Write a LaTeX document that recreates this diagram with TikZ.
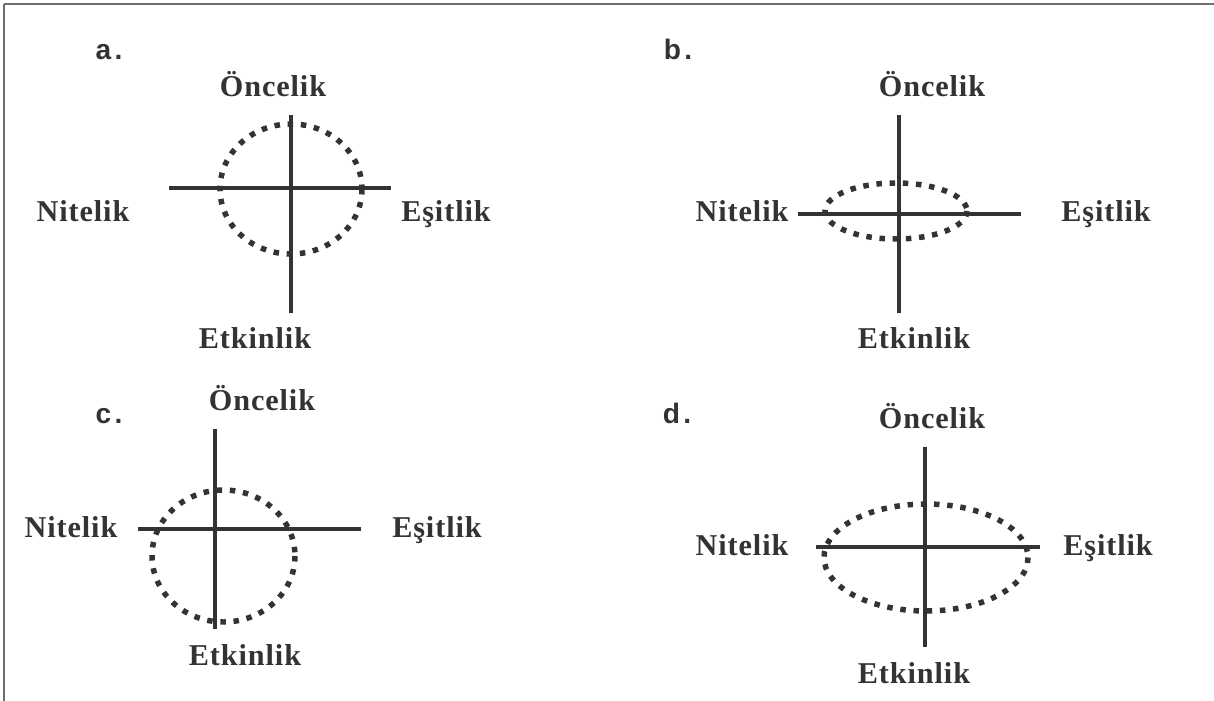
\documentclass[tikz,border=0pt]{standalone}
\usepackage{fontspec}
\setmainfont{Liberation Serif}
\newfontfamily\axisfont{Liberation Serif}[LetterSpace=3]
\newfontfamily\tagfont{Liberation Sans}[LetterSpace=12]
\definecolor{ink}{HTML}{333333}
\definecolor{rule}{HTML}{6E6E6E}

\begin{document}
\begin{tikzpicture}[x=0.025cm, y=-0.025cm,
  axlabel/.style={anchor=base, inner sep=0pt, text=ink, font={\axisfont\bfseries\fontsize{21.5}{25}\selectfont}},
  tag/.style={anchor=base, inner sep=0pt, text=ink, font={\tagfont\bfseries\fontsize{20}{24}\selectfont}},
  axis/.style={draw=ink, line width=3.5pt},
  spread/.style={draw=ink, line width=3.9pt, dash pattern=on 3.9pt off 5.5pt},
  frame/.style={draw=rule, line width=1.4pt}]
\useasboundingbox (0,0) rectangle (1214,701);
\draw[frame] (4,4) -- (1214,4);
\draw[frame] (4,4) -- (4,701);

% a.
\node[tag]     (tagA) at (109,60)  {a.};
\node[axlabel] (topA) at (273,97)  {Öncelik};
\node[axlabel] (lftA) at (83,222)  {Nitelik};
\node[axlabel] (rgtA) at (446,222) {Eşitlik};
\node[axlabel] (botA) at (255,348) {Etkinlik};
\coordinate (oA) at (291,115);
\coordinate (kA) at (291,313);
\coordinate (nA) at (169,188);
\coordinate (eA) at (391,188);
\coordinate (cA) at (291,189);
\draw[axis] (oA) -- (kA);
\draw[axis] (nA) -- (eA);
\draw[spread] (cA) ellipse [x radius=71, y radius=65];

% b.
\node[tag]     (tagB) at (678,60)   {b.};
\node[axlabel] (topB) at (932,97)   {Öncelik};
\node[axlabel] (lftB) at (742,222)  {Nitelik};
\node[axlabel] (rgtB) at (1106,222) {Eşitlik};
\node[axlabel] (botB) at (914,348)  {Etkinlik};
\coordinate (oB) at (899,115);
\coordinate (kB) at (899,313);
\coordinate (nB) at (798,214);
\coordinate (eB) at (1021,214);
\coordinate (cB) at (896,211);
\draw[axis] (oB) -- (kB);
\draw[axis] (nB) -- (eB);
\draw[spread] (cB) ellipse [x radius=71, y radius=28];

% c.
\node[tag]     (tagC) at (109,423) {c.};
\node[axlabel] (topC) at (262,410) {Öncelik};
\node[axlabel] (lftC) at (71,537)  {Nitelik};
\node[axlabel] (rgtC) at (437,537) {Eşitlik};
\node[axlabel] (botC) at (245,665) {Etkinlik};
\coordinate (oC) at (215,429);
\coordinate (kC) at (215,629);
\coordinate (nC) at (138,529);
\coordinate (eC) at (361,529);
\coordinate (cC) at (223.5,556);
\draw[axis] (oC) -- (kC);
\draw[axis] (nC) -- (eC);
\draw[spread] (cC) ellipse [x radius=71.5, y radius=66];

% d.
\node[tag]     (tagD) at (677,423)  {d.};
\node[axlabel] (topD) at (932,428)  {Öncelik};
\node[axlabel] (lftD) at (742,555)  {Nitelik};
\node[axlabel] (rgtD) at (1108,555) {Eşitlik};
\node[axlabel] (botD) at (914,683)  {Etkinlik};
\coordinate (oD) at (925,447);
\coordinate (kD) at (925,647);
\coordinate (nD) at (816,547);
\coordinate (eD) at (1040,547);
\coordinate (cD) at (926,557.5);
\draw[axis] (oD) -- (kD);
\draw[axis] (nD) -- (eD);
\draw[spread] (cD) ellipse [x radius=102, y radius=53.5];
\end{tikzpicture}
\end{document}
